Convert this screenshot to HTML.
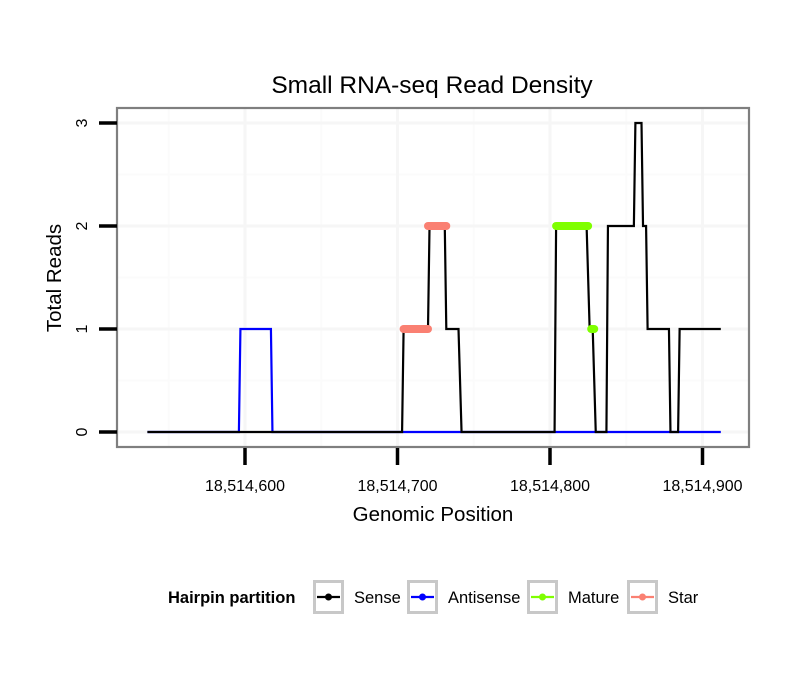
<!DOCTYPE html>
<html><head><meta charset="utf-8"><style>
body{margin:0;background:#fff;}
svg text{font-family:"Liberation Sans",sans-serif;}
</style></head><body>
<svg id="chart" width="810" height="690" xmlns="http://www.w3.org/2000/svg">
<text x="432" y="93" text-anchor="middle" font-size="24.5">Small RNA-seq Read Density</text>
<rect x="117" y="108" width="632" height="339" fill="#fff"/>
<g id="grid"></g>
<g id="series"></g>
<rect x="117" y="108" width="632" height="339" fill="none" stroke="#7f7f7f" stroke-width="2.2"/>
<g id="axes"></g>
<text x="433" y="521" text-anchor="middle" font-size="20.5">Genomic Position</text>
<text transform="translate(61,278) rotate(-90)" text-anchor="middle" font-size="20.5">Total Reads</text>
<g id="legend">
<text x="168" y="603" font-size="16.5" font-weight="bold">Hairpin partition</text>
</g>
</svg>
<script>
const xTicks=[18514600,18514700,18514800,18514900];
const xTickLabels=["18,514,600","18,514,700","18,514,800","18,514,900"];
const yTicks=[0,1,2,3];
const senseX=[18514536,18514703,18514704,18514720,18514721,18514731,18514732,18514740,18514742,18514803,18514804,18514824,18514826,18514828,18514830,18514837,18514838,18514855,18514856,18514860,18514861,18514863,18514864,18514878,18514879,18514884,18514885,18514912];
const senseY=[0,0,1,1,2,2,1,1,0,0,2,2,1,1,0,0,2,2,3,3,2,2,1,1,0,0,1,1];
const antiX=[18514536,18514596,18514597,18514617,18514618,18514912];
const antiY=[0,0,1,1,0,0];
const starSeg=[[18514704,18514720,1],[18514720,18514732,2]];
const matureSeg=[[18514804,18514825,2],[18514827,18514829,1]];
const legendLabels=["Sense","Antisense","Mature","Star"];
const legendColors=["#000000","#0000ff","#7fff00","#fa8072"];

const NS="http://www.w3.org/2000/svg";
function sx(v){return 245+(v-18514600)*1.525;}
function sy(v){return 432-v*103;}
function mk(t,a,p){const e=document.createElementNS(NS,t);for(const k in a)e.setAttribute(k,a[k]);p.appendChild(e);return e;}
const grid=document.getElementById('grid'),ser=document.getElementById('series'),ax=document.getElementById('axes'),leg=document.getElementById('legend');
for(let i=0;i<xTicks.length+1;i++){const v=xTicks[0]-50+i*100;const x=sx(v);if(x>117&&x<749){const l=mk('line',{x1:x,x2:x,y1:108,y2:447,stroke:'#fbfbfb','stroke-width':2},grid);}}
for(let i=0;i<yTicks.length;i++){const y=sy(yTicks[i]+0.5);if(y>108){const l=mk('line',{x1:117,x2:749,y1:y,y2:y,stroke:'#fbfbfb','stroke-width':2},grid);}}
xTicks.forEach(v=>{const x=sx(v);const l=mk('line',{x1:x,x2:x,y1:108,y2:447,stroke:'#f6f6f6','stroke-width':3},grid);});
yTicks.forEach(v=>{const y=sy(v);const l=mk('line',{x1:117,x2:749,y1:y,y2:y,stroke:'#f6f6f6','stroke-width':3},grid);});
function pts(xs,ys){return xs.map((x,i)=>sx(x)+','+sy(ys[i])).join(' ');}
const a=mk('polyline',{points:pts(antiX,antiY),fill:'none',stroke:'#0000ff','stroke-width':2.2},ser);

const s=mk('polyline',{points:pts(senseX,senseY),fill:'none',stroke:'#000','stroke-width':2.2},ser);

starSeg.forEach(d=>{const l=mk('line',{x1:sx(d[0]),x2:sx(d[1]),y1:sy(d[2]),y2:sy(d[2]),stroke:'#fa8072','stroke-width':8,'stroke-linecap':'round'},ser);});
matureSeg.forEach(d=>{const l=mk('line',{x1:sx(d[0]),x2:sx(d[1]),y1:sy(d[2]),y2:sy(d[2]),stroke:'#7fff00','stroke-width':8,'stroke-linecap':'round'},ser);});
xTicks.forEach((v,i)=>{const x=sx(v);const t=mk('line',{x1:x,x2:x,y1:448,y2:465,stroke:'#000','stroke-width':3.5},ax);
const tx=mk('text',{x:x,y:491,'text-anchor':'middle','font-size':16},ax);tx.textContent=xTickLabels[i];});
yTicks.forEach(v=>{const y=sy(v);const t=mk('line',{x1:99,x2:117,y1:y,y2:y,stroke:'#000','stroke-width':3.5},ax);
const tx=mk('text',{transform:`translate(87,${y}) rotate(-90)`,'text-anchor':'middle','font-size':16},ax);tx.textContent=String(v);});
const lx=[313,407,527,627];
legendLabels.forEach((lab,i)=>{const x=lx[i];
const g=mk('g',{},leg);
mk('rect',{x:x+1.5,y:581.5,width:28,height:31,fill:'#fff',stroke:'#c8c8c8','stroke-width':3},g);
mk('line',{x1:x+4,x2:x+27,y1:597,y2:597,stroke:legendColors[i],'stroke-width':2.2},g);
mk('circle',{cx:x+15.5,cy:597,r:3.5,fill:legendColors[i]},g);
const t=mk('text',{x:x+41,y:603,'font-size':16.5},g);t.textContent=lab;});
</script>
</body></html>
